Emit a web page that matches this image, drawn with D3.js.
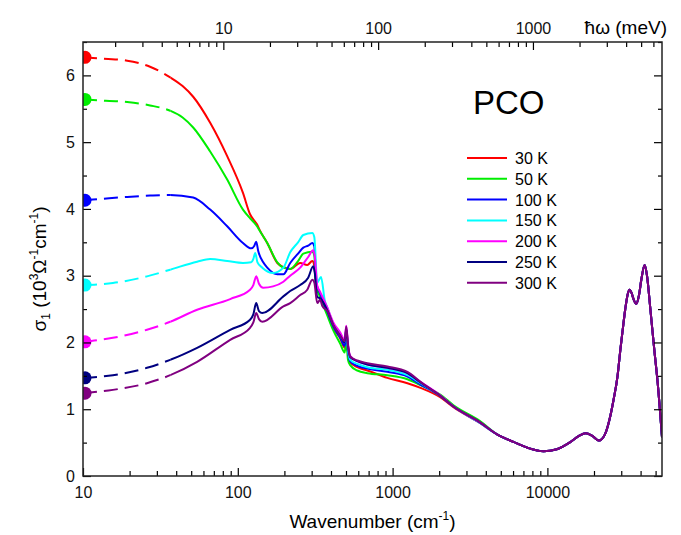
<!DOCTYPE html>
<html>
<head>
<meta charset="utf-8">
<title>PCO optical conductivity</title>
<script src="https://d3js.org/d3.v7.min.js"></script>
<style>
  body{ margin:0; background:#fff; font-family:"Liberation Sans", Arial, sans-serif; }
</style>
</head>
<body>
<script>
// temperatures, colours
var labels = ["30 K", "50 K", "100 K", "150 K", "200 K", "250 K", "300 K"];
var colors = ["#ff0000", "#00ee00", "#0000ff", "#00ffff", "#ff00ff", "#000080", "#800080"];

// [wavenumber (cm-1), sigma1 (10^3 Ohm-1 cm-1)]
var s30 = [[10,6.27],[11.6,6.26],[19.3,6.22],[27.1,6.13],[36.6,5.97],[44,5.84],[51.5,5.68],[66.3,5.29],[85.4,4.79],[108,4.24],[120,3.92],[128,3.82],[133,3.77],[138,3.69],[155,3.49],[180,3.19],[197,3.13],[218,3.1],[253,3.19],[281,3.16],[303,3.22],[312,3.15],[321,2.85],[340,2.72],[379,2.46],[414,2.22],[459,2.06],[490,1.92],[502,2.1],[515,1.85],[532,1.7],[592,1.63],[687,1.58],[925,1.47],[1247,1.39],[1514,1.32],[2030,1.18],[2473,1.03],[3690,0.79]];
var s50 = [[10,5.64],[11.6,5.63],[19.3,5.6],[27.1,5.55],[36.6,5.47],[44,5.37],[51.5,5.22],[66.3,4.86],[85.4,4.44],[108,3.99],[120,3.86],[128,3.79],[133,3.74],[138,3.68],[155,3.49],[180,3.2],[197,3.12],[218,3.1],[245,3.22],[265,3.33],[303,3.36],[312,3.3],[321,2.85],[340,2.68],[379,2.4],[414,2.18],[459,1.98],[490,1.85],[502,2.02],[515,1.74],[532,1.66],[592,1.58],[687,1.54],[925,1.51],[1247,1.45],[1514,1.36],[2030,1.22],[2473,1.06],[3690,0.82]];
var s100 = [[10,4.13],[11.6,4.14],[19.3,4.18],[27.1,4.2],[36.6,4.21],[51.5,4.17],[66.3,3.99],[85.4,3.74],[108,3.49],[122,3.41],[128,3.45],[131.5,3.51],[135.5,3.37],[146,3.2],[155,3.12],[180,3.02],[197,3.02],[218,3.19],[245,3.33],[265,3.42],[285,3.45],[303,3.49],[312,3.44],[321,2.9],[340,2.74],[379,2.46],[414,2.24],[459,2.07],[490,1.95],[502,2.12],[515,1.86],[532,1.72],[592,1.65],[687,1.61],[925,1.56],[1247,1.49],[1514,1.37],[2030,1.2],[2473,1.04],[3690,0.79]];
var s150 = [[10,2.86],[15.6,2.89],[25.9,2.99],[36.6,3.09],[54.6,3.21],[66.3,3.25],[85.4,3.22],[108,3.19],[122,3.2],[126,3.25],[129.6,3.34],[134,3.2],[144,3.12],[169,3.04],[197,3.12],[218,3.35],[245,3.5],[265,3.61],[303,3.64],[312,3.58],[326,2.9],[345,2.98],[365,2.62],[379,2.52],[414,2.28],[459,2.1],[490,2.0],[502,2.18],[515,1.9],[532,1.74],[592,1.68],[687,1.63],[925,1.59],[1247,1.51],[1514,1.39],[2030,1.2],[2473,1.04],[3690,0.79]];
var s200 = [[10,2.01],[15.6,2.07],[25.9,2.19],[36.6,2.31],[54.6,2.49],[89.3,2.65],[120,2.79],[126,2.86],[131.5,2.99],[137,2.88],[146,2.82],[169,2.84],[197,2.91],[218,3.0],[253,3.12],[285,3.28],[307,3.38],[314,3.3],[326,2.85],[340,2.76],[379,2.52],[414,2.3],[459,2.15],[490,2.04],[502,2.25],[515,1.98],[532,1.8],[592,1.72],[687,1.67],[925,1.62],[1247,1.54],[1514,1.41],[2030,1.21],[2473,1.04],[3690,0.8]];
var s250 = [[10,1.47],[15.6,1.51],[25.9,1.62],[36.6,1.74],[54.6,1.92],[89.3,2.19],[120,2.34],[126,2.42],[131.5,2.59],[137,2.47],[144,2.44],[197,2.69],[218,2.77],[253,2.86],[285,2.97],[307,3.14],[314,3.05],[326,2.68],[340,2.66],[379,2.48],[414,2.26],[459,2.1],[490,2.0],[502,2.2],[515,1.95],[532,1.78],[592,1.72],[687,1.67],[925,1.62],[1247,1.54],[1514,1.4],[2030,1.2],[2473,1.04],[3690,0.8]];
var s300 = [[10,1.24],[15.6,1.29],[25.9,1.39],[36.6,1.51],[54.6,1.71],[89.3,2.04],[120,2.22],[126,2.3],[131.5,2.44],[137,2.35],[144,2.31],[197,2.54],[218,2.59],[253,2.71],[281,2.79],[303,2.94],[312,2.9],[326,2.59],[340,2.64],[351,2.55],[379,2.47],[414,2.26],[459,2.1],[490,2.02],[502,2.24],[515,1.96],[532,1.79],[592,1.73],[687,1.69],[925,1.64],[1247,1.56],[1514,1.41],[2030,1.2],[2473,1.04],[3690,0.8]];
// above ~4000 cm-1 all temperatures lie on top of each other
var tail = [[4760,0.62],[6040,0.51],[7500,0.42],[9450,0.37],[11500,0.4],[14130,0.51],[16000,0.6],[17700,0.64],[19500,0.6],[21500,0.53],[23500,0.62],[25500,0.9],[26800,1.15],[28400,1.5],[29600,1.89],[30700,2.2],[31800,2.49],[33000,2.72],[34000,2.79],[35000,2.74],[36000,2.65],[37500,2.58],[39000,2.7],[40500,2.95],[42500,3.16],[44000,3.0],[46300,2.49],[49000,1.9],[51600,1.39],[55000,0.58]];

var dashEnd = 36.6;   // extrapolated (dashed) below this
var xTicks = [10, 100, 1000, 10000];
var meVTicks = [10, 100, 1000];
var yTicks = [0, 1, 2, 3, 4, 5, 6];
var cmPerMeV = 8.0655;

var series = [s30, s50, s100, s150, s200, s250, s300].map(function(s){ return s.concat(tail); });

var width = 681, height = 535;
var mLeft = 83, mRight = 662, mTop = 42, mBottom = 476;
var font = "'Liberation Sans', Arial, sans-serif";

var svg = d3.select("body").append("svg")
    .attr("width", width)
    .attr("height", height);

var x = d3.scaleLog().domain([10, 55000]).range([mLeft, mRight]);
var xE = d3.scaleLog().domain([10 / cmPerMeV, 55000 / cmPerMeV]).range([mLeft, mRight]);
var y = d3.scaleLinear().domain([0, 6.5]).range([mBottom, mTop]);

var defs = svg.append("defs");
defs.append("clipPath").attr("id", "clip")
   .append("rect").attr("x", mLeft).attr("y", mTop).attr("width", mRight - mLeft).attr("height", mBottom - mTop);
defs.append("clipPath").attr("id", "clipDash")
   .append("rect").attr("x", mLeft).attr("y", mTop).attr("width", x(dashEnd) - mLeft).attr("height", mBottom - mTop);
defs.append("clipPath").attr("id", "clipSolid")
   .append("rect").attr("x", x(dashEnd)).attr("y", mTop).attr("width", mRight - x(dashEnd)).attr("height", mBottom - mTop);

var line = d3.line()
    .x(function(d){ return x(d[0]); })
    .y(function(d){ return y(d[1]); })
    .curve(d3.curveMonotoneX);

var plot = svg.append("g");

series.forEach(function(s, i){
  plot.append("path")
      .attr("clip-path", "url(#clipDash)")
      .attr("d", line(s))
      .attr("fill", "none")
      .attr("stroke", colors[i])
      .attr("stroke-width", 2)
      .attr("stroke-dasharray", "14,7");
  plot.append("path")
      .attr("clip-path", "url(#clipSolid)")
      .attr("d", line(s))
      .attr("fill", "none")
      .attr("stroke", colors[i])
      .attr("stroke-width", 2);
});

// end points at 10 cm-1
svg.append("g").attr("clip-path", "url(#clip)")
    .selectAll("circle")
    .data(series)
    .enter()
    .append("circle")
    .attr("cx", function(d){ return x(d[0][0]) + 2; })
    .attr("cy", function(d){ return y(d[0][1]); })
    .attr("r", 6.5)
    .attr("fill", function(d, i){ return colors[i]; });

// axes, ticks pointing inward
function minorDecades(lo, hi){
  var out = [];
  for (var p = Math.floor(Math.log10(lo)); p <= Math.ceil(Math.log10(hi)); p++) {
    for (var k = 2; k <= 9; k++) {
      var v = k * Math.pow(10, p);
      if (v > lo && v < hi) out.push(v);
    }
  }
  return out;
}

function styleAxis(g){
  g.select(".domain").remove();
  g.selectAll("line").attr("stroke", "#000").attr("stroke-width", 1.2);
  g.selectAll("text").attr("font-size", 16).attr("fill", "#111").attr("font-family", font);
}

svg.append("g").attr("transform", "translate(0," + mBottom + ")")
   .call(d3.axisBottom(x).tickValues(xTicks).tickSize(-8).tickPadding(11).tickFormat(d3.format("d")))
   .call(styleAxis);
svg.append("g").attr("transform", "translate(0," + mBottom + ")")
   .call(d3.axisBottom(x).tickValues(minorDecades(10, 55000)).tickSize(-5).tickFormat(""))
   .call(styleAxis);

svg.append("g").attr("transform", "translate(0," + mTop + ")")
   .call(d3.axisTop(xE).tickValues(meVTicks).tickSize(-8).tickPadding(8).tickFormat(d3.format("d")))
   .call(styleAxis);
svg.append("g").attr("transform", "translate(0," + mTop + ")")
   .call(d3.axisTop(xE).tickValues(minorDecades(10 / cmPerMeV, 55000 / cmPerMeV)).tickSize(-5).tickFormat(""))
   .call(styleAxis);

svg.append("g").attr("transform", "translate(" + mLeft + ",0)")
   .call(d3.axisLeft(y).tickValues(yTicks).tickSize(-8).tickPadding(8).tickFormat(d3.format("d")))
   .call(styleAxis);
svg.append("g").attr("transform", "translate(" + mLeft + ",0)")
   .call(d3.axisLeft(y).tickValues(yTicks.map(function(v){ return v + 0.5; })).tickSize(-4).tickFormat(""))
   .call(styleAxis);
svg.append("g").attr("transform", "translate(" + mRight + ",0)")
   .call(d3.axisRight(y).tickValues(yTicks).tickSize(-8).tickFormat(""))
   .call(styleAxis);
svg.append("g").attr("transform", "translate(" + mRight + ",0)")
   .call(d3.axisRight(y).tickValues(yTicks.map(function(v){ return v + 0.5; })).tickSize(-4).tickFormat(""))
   .call(styleAxis);

svg.append("rect")
   .attr("x", mLeft).attr("y", mTop)
   .attr("width", mRight - mLeft).attr("height", mBottom - mTop)
   .attr("fill", "none").attr("stroke", "#222").attr("stroke-width", 1.5);

// titles
var xt = svg.append("text")
   .attr("x", (mLeft + mRight) / 2).attr("y", 528)
   .attr("text-anchor", "middle").attr("font-size", 19).attr("font-family", font);
xt.append("tspan").text("Wavenumber (cm");
xt.append("tspan").attr("font-size", 12).attr("dy", -8).text("-1");
xt.append("tspan").attr("dy", 8).text(")");

svg.append("text")
   .attr("x", 667).attr("y", 34)
   .attr("text-anchor", "end").attr("font-size", 19).attr("font-family", font)
   .text("\u0127\u03c9 (meV)");

var yt = svg.append("text")
   .attr("transform", "translate(46," + y(3.1) + ") rotate(-90)")
   .attr("text-anchor", "middle").attr("font-size", 19).attr("font-family", font);
yt.append("tspan").text("\u03c3");
yt.append("tspan").attr("font-size", 12).attr("dy", 4).text("1");
yt.append("tspan").attr("dy", -4).text(" (10");
yt.append("tspan").attr("font-size", 12).attr("dy", -8).text("3");
yt.append("tspan").attr("dy", 8).text("\u03a9");
yt.append("tspan").attr("font-size", 12).attr("dy", -8).text("-1");
yt.append("tspan").attr("dy", 8).text("cm");
yt.append("tspan").attr("font-size", 12).attr("dy", -8).text("-1");
yt.append("tspan").attr("dy", 8).text(")");

svg.append("text")
   .attr("x", 473).attr("y", 114)
   .attr("font-size", 33).attr("font-family", font)
   .text("PCO");

// legend
var legend = svg.append("g").attr("transform", "translate(467,158)");
labels.forEach(function(t, i){
  var row = legend.append("g").attr("transform", "translate(0," + (i * 20.8) + ")");
  row.append("line").attr("x1", 0).attr("x2", 40).attr("y1", 0).attr("y2", 0)
     .attr("stroke", colors[i]).attr("stroke-width", 2);
  row.append("text").attr("x", 48).attr("y", 6)
     .attr("font-size", 16).attr("font-family", font).text(t);
});
</script>
</body>
</html>
